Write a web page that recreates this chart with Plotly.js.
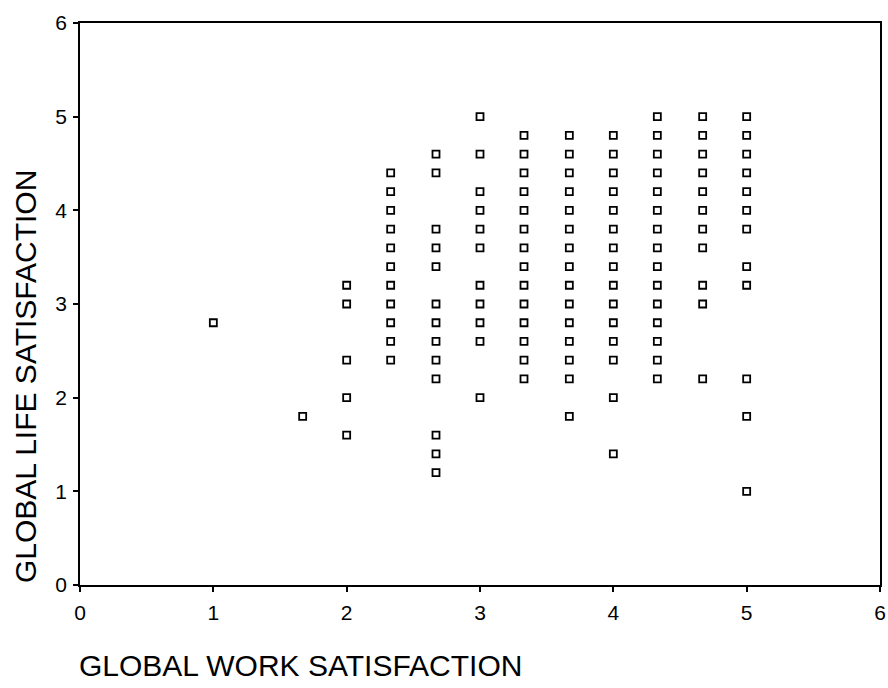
<!DOCTYPE html>
<html>
<head>
<meta charset="utf-8">
<script src="https://cdn.plot.ly/plotly-3.0.1.min.js"></script>
<style>html,body{margin:0;padding:0;background:#fff;}#chart{width:888px;height:688px;}</style>
</head>
<body>
<div id="chart"></div>
<script>
// Work satisfaction levels (x) and life satisfaction values (y) read per column
var workLevels = [1.00, 1.67, 2.00, 2.33, 2.67, 3.00, 3.33, 3.67, 4.00, 4.33, 4.67, 5.00];
var life_1_00 = [2.8];
var life_1_67 = [1.8];
var life_2_00 = [3.2, 3.0, 2.4, 2.0, 1.6];
var life_2_33 = [4.4, 4.2, 4.0, 3.8, 3.6, 3.4, 3.2, 3.0, 2.8, 2.6, 2.4];
var life_2_67 = [4.6, 4.4, 3.8, 3.6, 3.4, 3.0, 2.8, 2.6, 2.4, 2.2, 1.6, 1.4, 1.2];
var life_3_00 = [5.0, 4.6, 4.2, 4.0, 3.8, 3.6, 3.2, 3.0, 2.8, 2.6, 2.0];
var life_3_33 = [4.8, 4.6, 4.4, 4.2, 4.0, 3.8, 3.6, 3.4, 3.2, 3.0, 2.8, 2.6, 2.4, 2.2];
var life_3_67 = [4.8, 4.6, 4.4, 4.2, 4.0, 3.8, 3.6, 3.4, 3.2, 3.0, 2.8, 2.6, 2.4, 2.2, 1.8];
var life_4_00 = [4.8, 4.6, 4.4, 4.2, 4.0, 3.8, 3.6, 3.4, 3.2, 3.0, 2.8, 2.6, 2.4, 2.0, 1.4];
var life_4_33 = [5.0, 4.8, 4.6, 4.4, 4.2, 4.0, 3.8, 3.6, 3.4, 3.2, 3.0, 2.8, 2.6, 2.4, 2.2];
var life_4_67 = [5.0, 4.8, 4.6, 4.4, 4.2, 4.0, 3.8, 3.6, 3.2, 3.0, 2.2];
var life_5_00 = [5.0, 4.8, 4.6, 4.4, 4.2, 4.0, 3.8, 3.4, 3.2, 2.2, 1.8, 1.0];
var lifeColumns = [life_1_00, life_1_67, life_2_00, life_2_33, life_2_67, life_3_00,
                   life_3_33, life_3_67, life_4_00, life_4_33, life_4_67, life_5_00];
var tickVals = [0, 1, 2, 3, 4, 5, 6];
var tickText = ['0', '1', '2', '3', '4', '5', '6'];
var xTitle = 'GLOBAL WORK SATISFACTION';
var yTitle = 'GLOBAL LIFE SATISFACTION';

var xs = [], ys = [];
lifeColumns.forEach(function (col, i) {
  col.forEach(function (v) { xs.push(workLevels[i]); ys.push(v); });
});

var trace = {
  type: 'scatter', mode: 'markers', x: xs, y: ys,
  marker: {symbol: 'square-open', size: 7, color: '#000', line: {width: 1.8, color: '#000'}},
  hoverinfo: 'x+y'
};

var tickFont = {family: 'Liberation Sans, Arial, sans-serif', size: 21, color: '#000'};
var axisCommon = {
  range: [0, 6], tickvals: tickVals, ticktext: tickText,
  showgrid: false, zeroline: false, showline: true, linecolor: '#000', linewidth: 1.6,
  mirror: true, ticks: 'outside', ticklen: 5, tickwidth: 1.6, tickcolor: '#000',
  tickfont: tickFont, ticklabeloverflow: 'allow'
};

var layout = {
  width: 888, height: 688,
  margin: {l: 80, r: 8, t: 23, b: 103},
  paper_bgcolor: '#fff', plot_bgcolor: '#fff',
  showlegend: false,
  xaxis: Object.assign({}, axisCommon, {ticklabelstandoff: 3}),
  yaxis: Object.assign({}, axisCommon, {ticklabelstandoff: 2}),
  annotations: [
    {text: xTitle, xref: 'paper', yref: 'paper', x: -0.004, y: -0.11,
     xanchor: 'left', yanchor: 'top', showarrow: false,
     font: {family: 'Liberation Sans, Arial, sans-serif', size: 30, color: '#000'}},
    {text: yTitle, xref: 'paper', yref: 'paper', x: -0.068, y: 0.0,
     xanchor: 'center', yanchor: 'bottom', textangle: -90, showarrow: false,
     font: {family: 'Liberation Sans, Arial, sans-serif', size: 30, color: '#000'}}
  ]
};

Plotly.newPlot('chart', [trace], layout, {displayModeBar: false});
</script>
</body>
</html>
